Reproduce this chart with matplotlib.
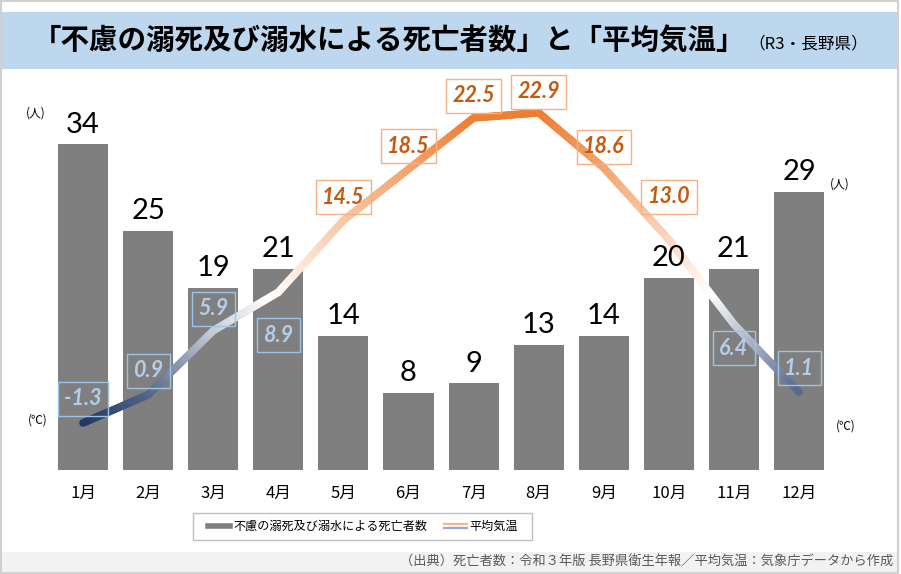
import numpy as np
import matplotlib
matplotlib.use("Agg")
import matplotlib.pyplot as plt
from matplotlib.collections import LineCollection
from matplotlib.colors import LinearSegmentedColormap, Normalize
from matplotlib.legend_handler import HandlerBase
from matplotlib.lines import Line2D
from matplotlib.patches import Rectangle

plt.rcParams['font.family'] = ['Noto Sans CJK JP', 'DejaVu Sans']

# ---------------- data ----------------
months = ['1月', '2月', '3月', '4月', '5月', '6月', '7月', '8月', '9月', '10月', '11月', '12月']
deaths = [34, 25, 19, 21, 14, 8, 9, 13, 14, 20, 21, 29]
temps = [-1.3, 0.9, 5.9, 8.9, 14.5, 18.5, 22.5, 22.9, 18.6, 13.0, 6.4, 1.1]
title_main = '「不慮の溺死及び溺水による死亡者数」と「平均気温」'
title_sub = '（R3・長野県）'
legend_bar = '不慮の溺死及び溺水による死亡者数'
legend_line = '平均気温'
source = '（出典）死亡者数：令和３年版 長野県衛生年報／平均気温：気象庁データから作成'

# label vertical offsets (pixels, positive = up)
label_off = [24, 24, 22, -43, 23, 23, 22, 21, 21, 43, -24, 24]

W, H = 901, 574
fig = plt.figure(figsize=(W / 100, H / 100), dpi=100)

def fx(px):
    return px / W

def fy(py):
    return 1 - py / H

# background decorations
fig.patches.append(Rectangle((fx(1), fy(69)), fx(896), 57 / H, transform=fig.transFigure,
                             facecolor='#BDD7EE', edgecolor='none', zorder=0))
fig.patches.append(Rectangle((fx(1), fy(572)), fx(896), 20 / H, transform=fig.transFigure,
                             facecolor='#F2F2F2', edgecolor='none', zorder=0))
fig.patches.append(Rectangle((fx(0.5), fy(573)), fx(897), 572.5 / H, transform=fig.transFigure,
                             facecolor='none', edgecolor='#D0D0D0', lw=1.5, zorder=5))
# legend frame
fig.patches.append(Rectangle((fx(193), fy(540)), fx(339), 27 / H, transform=fig.transFigure,
                             facecolor='white', edgecolor='#BFBFBF', lw=1.0, zorder=1))

# title
fig.text(fx(33), fy(42), title_main, ha='left', va='center', fontsize=20.5,
         fontweight='bold', color='black')
fig.text(fx(748), fy(44), title_sub, ha='left', va='center', fontsize=12, color='black')

# axes
ax = fig.add_axes([fx(50.5), fy(469.5), fx(781.1), 369.5 / H])
x = np.arange(len(months))
ax.bar(x, deaths, width=0.77, color='#7F7F7F', zorder=1)
ax.set_xlim(-0.5, 11.5)
ax.set_ylim(0, 369.5 / 9.56)
for s in ax.spines.values():
    s.set_visible(False)
ax.set_yticks([])
ax.set_xticks(x)
ax.set_xticklabels(months, fontsize=12)
ax.tick_params(axis='x', length=0, pad=11)

ax2 = ax.twinx()
ax2.set_ylim(-(469.5 - 406.3) / 12.82, (406.3 - 100) / 12.82)
for s in ax2.spines.values():
    s.set_visible(False)
ax2.set_yticks([])

cmap = LinearSegmentedColormap.from_list(
    'tg', [(0.0, '#1F3864'), ((8.5 + 1.3) / 24.2, '#FFFFFF'), (1.0, '#ED7D31')])
norm = Normalize(vmin=-1.3, vmax=22.9)

segs = []
cols = []
for i in range(len(x) - 1):
    xs = np.linspace(x[i], x[i + 1], 31)
    ys = np.linspace(temps[i], temps[i + 1], 31)
    for j in range(30):
        segs.append([(xs[j], ys[j]), (xs[j + 1], ys[j + 1])])
        cols.append(cmap(norm((ys[j] + ys[j + 1]) / 2)))
lc = LineCollection(segs, colors=cols, linewidths=5.5, capstyle='round', joinstyle='round', zorder=2)
ax2.add_collection(lc)

# bar value labels (drawn above the line)
for xi, d in zip(x, deaths):
    ax2.annotate(str(d), xy=(xi, d), xycoords=ax.transData, xytext=(0, 5),
                 textcoords='offset points', ha='center', va='bottom', fontsize=21,
                 family=['Lato', 'DejaVu Sans'], fontweight='normal', color='black', zorder=3)

for xi, t, off in zip(x, temps, label_off):
    warm = t >= 10
    tc = '#C55A11' if warm else '#B4CDE8'
    ec = '#F4B183' if warm else '#9DC3E6'
    ax2.annotate(f'{t:.1f}', xy=(xi, t), xytext=(0, off * 0.72), textcoords='offset points',
                 ha='center', va='center', fontsize=15.5, fontweight='bold', fontstyle='italic',
                 family=['Lato', 'DejaVu Sans'], color=tc, zorder=4,
                 bbox=dict(boxstyle='square,pad=0.3', fc='none', ec=ec, lw=1.0))

# unit labels
fig.text(fx(36), fy(113), '(人)', ha='center', va='center', fontsize=8.5)
fig.text(fx(840), fy(184), '(人)', ha='center', va='center', fontsize=8.5)
fig.text(fx(38), fy(420), '(℃)', ha='center', va='center', fontsize=8.5)
fig.text(fx(846), fy(426), '(℃)', ha='center', va='center', fontsize=8.5)


class GradHandler(HandlerBase):
    def create_artists(self, legend, orig_handle, xdescent, ydescent, width, height,
                       fontsize, trans):
        y = height / 2 - ydescent
        arts = []
        for dy, c in [(1.6, '#F4B183'), (0, '#FFFFFF'), (-1.6, '#8FAADC')]:
            l = Line2D([-xdescent, width - xdescent], [y + dy, y + dy], color=c, lw=1.6,
                       transform=trans)
            arts.append(l)
        return arts


bar_handle = Line2D([0], [0], color='#7F7F7F', lw=4)
line_handle = Line2D([0], [0], color='#ED7D31', lw=4)
leg = fig.legend([bar_handle, line_handle], [legend_bar, legend_line],
                 handler_map={line_handle: GradHandler()},
                 loc='center', bbox_to_anchor=(fx(363), fy(526.5)), ncol=2,
                 fontsize=8.7, frameon=False,
                 handlelength=1.85, handletextpad=0.25, columnspacing=1.4, borderpad=0.3)

fig.text(fx(893), fy(562), source, ha='right', va='center', fontsize=9.5, color='#595959')

fig.savefig('out.png', dpi=100)
